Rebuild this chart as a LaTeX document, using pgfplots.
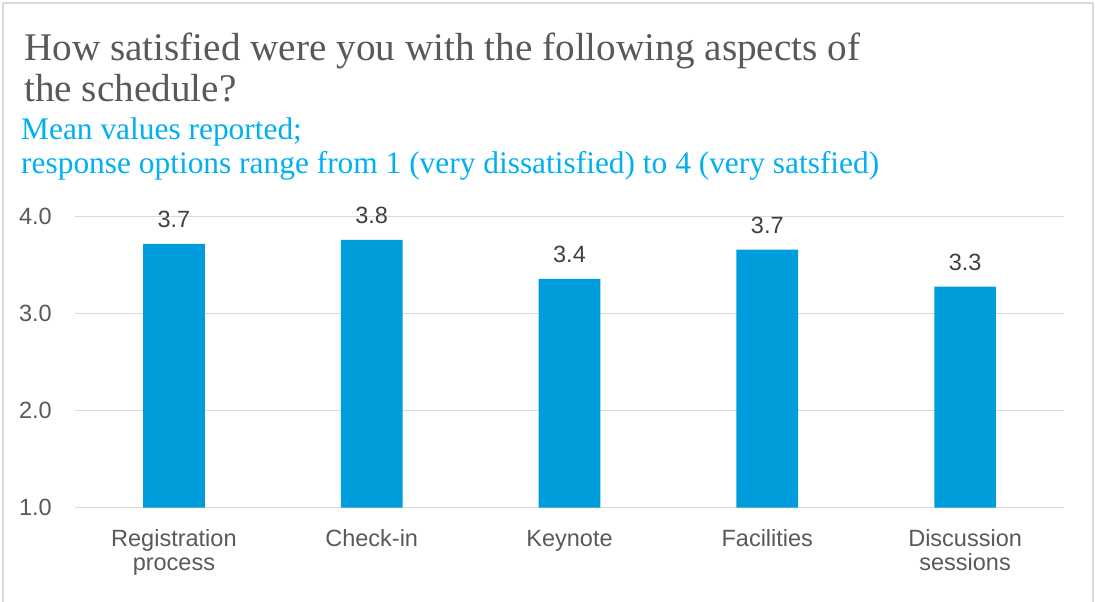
\documentclass[border=0pt]{standalone}
\usepackage{fontspec}
\setmainfont{Liberation Sans}
\newfontfamily\titlefont{Liberation Serif}
\usepackage{pgfplots}
\pgfplotsset{compat=1.18}
\definecolor{titlegray}{HTML}{595959}
\definecolor{subblue}{HTML}{00B0F0}
\definecolor{barblue}{HTML}{009DDC}
\definecolor{gridgray}{HTML}{D9D9D9}
\definecolor{labelgray}{HTML}{404040}

\begin{document}
\begin{tikzpicture}[x=1pt,y=1pt]
\useasboundingbox (0,0) rectangle (1095,-602);
% outer chart frame
\draw[gridgray, line width=2pt] (3,-610) -- (3,-3) -- (1093,-3) -- (1093,-610);

% title and subtitle
\node[anchor=base west, inner sep=0pt, text=titlegray, font=\titlefont\fontsize{39.2}{41}\selectfont] at (24,-61) {How satisfied were you with the following aspects of};
\node[anchor=base west, inner sep=0pt, text=titlegray, font=\titlefont\fontsize{39.2}{41}\selectfont] at (24,-102) {the schedule?};
\node[anchor=base west, inner sep=0pt, text=subblue, font=\titlefont\fontsize{31.4}{34}\selectfont] at (21,-139) {Mean values reported;};
\node[anchor=base west, inner sep=0pt, text=subblue, font=\titlefont\fontsize{31.4}{34}\selectfont] at (21,-173) {response options range from 1 (very dissatisfied) to 4 (very satsfied)};

\begin{axis}[
    at={(75pt,-507.7pt)}, anchor=south west,
    scale only axis, width=989pt, height=291pt,
    xmin=-0.5, xmax=4.5, ymin=1, ymax=4,
    xtick={0,1,2,3,4},
    xticklabels={{Registration\\process}, {Check-in}, {Keynote}, {Facilities}, {Discussion\\sessions}},
    ytick={1,2,3,4},
    ymajorgrids,
    grid style={gridgray, line width=1.5pt},
    axis line style={draw=none},
    major tick style={draw=none},
    /pgf/number format/assume math mode=true,
    yticklabel style={/pgf/number format/.cd, fixed, fixed zerofill, precision=1, /tikz/.cd,
        anchor=east, inner sep=0pt, xshift=-23pt, text=titlegray,
        font=\fontsize{23.5}{24}\selectfont},
    xticklabel style={anchor=north, align=center, inner sep=0pt, yshift=-22pt, text=titlegray,
        font=\fontsize{23.5}{24}\selectfont},
]
\addplot[ybar, bar width=61.7pt, fill=barblue, draw=none,
    nodes near coords,
    nodes near coords style={anchor=base, inner sep=0pt, yshift=16pt, text=labelgray,
        font=\fontsize{23.5}{24}\selectfont,
        /pgf/number format/.cd, fixed, fixed zerofill, precision=1, assume math mode=true},
] coordinates {(0,3.72) (1,3.76) (2,3.36) (3,3.66) (4,3.28)};
\end{axis}
\end{tikzpicture}
\end{document}
